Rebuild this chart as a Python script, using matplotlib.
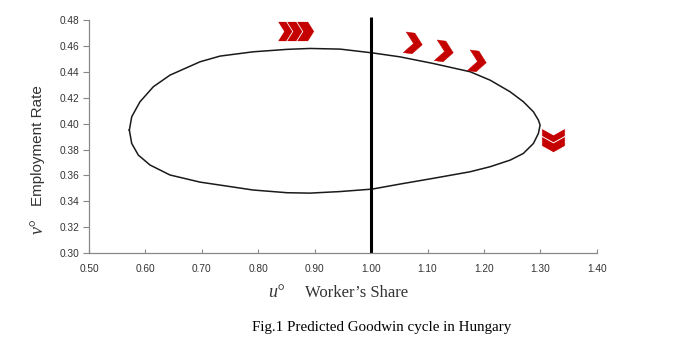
import matplotlib
matplotlib.use("Agg")
import matplotlib.pyplot as plt
from matplotlib.path import Path
from matplotlib.markers import MarkerStyle
from matplotlib.transforms import Affine2D

# predicted cycle (worker's share u, employment rate v), traced clockwise from the left end
u_cycle = [0.5715, 0.5757, 0.5904, 0.6140, 0.6436, 0.6968, 0.7323, 0.7908, 0.8511, 0.8918,
           0.9450, 1.0018, 1.0514, 1.1099, 1.1755, 1.2110, 1.2465, 1.2700, 1.2878, 1.2966,
           1.2996, 1.2966, 1.2878, 1.2700, 1.2465, 1.2110, 1.1755, 1.1099, 1.0514, 1.0018,
           0.9450, 0.8918, 0.8511, 0.7908, 0.7323, 0.6968, 0.6436, 0.6082, 0.5874, 0.5757,
           0.5715]
v_cycle = [0.3950, 0.4053, 0.4169, 0.4285, 0.4375, 0.4478, 0.4522, 0.4555, 0.4574, 0.4581,
           0.4576, 0.4547, 0.4516, 0.4465, 0.4401, 0.4336, 0.4246, 0.4169, 0.4091, 0.4027,
           0.3989, 0.3925, 0.3847, 0.3770, 0.3718, 0.3667, 0.3628, 0.3577, 0.3533, 0.3494,
           0.3475, 0.3463, 0.3466, 0.3487, 0.3525, 0.3548, 0.3603, 0.3680, 0.3757, 0.3847,
           0.3950]

# direction arrows along the cycle
triple_u = [0.849, 0.865, 0.882]
triple_v = [0.4715, 0.4715, 0.4715]
single_u = [1.074, 1.129, 1.188]
single_v = [0.4625, 0.4565, 0.4485]
down_u = [1.3227, 1.3227]
down_v = [0.3908, 0.3839]

x_ticks = [0.50, 0.60, 0.70, 0.80, 0.90, 1.00, 1.10, 1.20, 1.30, 1.40]
y_ticks = [0.30, 0.32, 0.34, 0.36, 0.38, 0.40, 0.42, 0.44, 0.46, 0.48]

red = "#c40000"


def chevron(t):
    # right-pointing chevron, arm thickness t (x units), spanning [-1, 1]
    verts = [(-1, 1), (-1 + t, 1), (1, 0), (-1 + t, -1), (-1, -1), (1 - t, 0), (-1, 1)]
    return Path(verts, [Path.MOVETO] + [Path.LINETO] * 5 + [Path.CLOSEPOLY])


fig = plt.figure(figsize=(6.82, 3.41), dpi=100)
ax = fig.add_axes([0.1305, 0.258, 0.7445, 0.683])

ax.plot(u_cycle, v_cycle, color="#1a1a1a", lw=1.1, solid_joinstyle="round")
ax.plot([1.0, 1.0], [0.30, 0.4825], color="black", lw=2.2, clip_on=False,
        solid_capstyle="butt")

ax.plot(triple_u, triple_v, ls="none",
        marker=MarkerStyle(chevron(1.3), transform=Affine2D().scale(0.9, 1)),
        ms=14.5, mfc=red, mec="white", mew=0.6, clip_on=False)
ax.plot(single_u, single_v, ls="none",
        marker=MarkerStyle(chevron(1.0), transform=Affine2D().scale(0.85, 1).rotate_deg(-8)),
        ms=15, mfc=red, mec=red, mew=0.3, clip_on=False)
ax.plot(down_u, down_v, ls="none",
        marker=MarkerStyle(chevron(1.2), transform=Affine2D().scale(0.7, 1).rotate_deg(-90)),
        ms=17, mfc=red, mec="white", mew=0.7, clip_on=False)

ax.set_xlim(0.50, 1.40)
ax.set_ylim(0.30, 0.48)
ax.set_xticks(x_ticks)
ax.set_yticks(y_ticks)
ax.set_xticklabels([f"{t:.2f}" for t in x_ticks])
ax.set_yticklabels([f"{t:.2f}" for t in y_ticks])

for s in ["top", "right"]:
    ax.spines[s].set_visible(False)
for s in ["left", "bottom"]:
    ax.spines[s].set_color("#888888")
    ax.spines[s].set_linewidth(0.9)
ax.tick_params(axis="y", direction="out", length=4, color="#888888",
               labelsize=7.3, labelcolor="#333333", pad=3)
ax.tick_params(axis="x", direction="in", length=3, color="#888888",
               labelsize=7.3, labelcolor="#333333", pad=8)
for lbl in ax.get_xticklabels() + ax.get_yticklabels():
    lbl.set_family("Liberation Sans")

fig.text(0.0557, 0.572, "Employment Rate", rotation=90, ha="center", va="center",
         fontsize=11, family="Liberation Sans", color="#333333")
fig.text(0.0557, 0.337, "v°", rotation=90, ha="center", va="center",
         fontsize=13, family="Liberation Serif", style="italic", color="#333333")
fig.text(0.405, 0.141, "u°", ha="center", va="center",
         fontsize=13, family="Liberation Serif", style="italic", color="#333333")
fig.text(0.447, 0.141, "Worker\u2019s Share", ha="left", va="center",
         fontsize=12, family="Liberation Serif", color="#333333")
fig.text(0.56, 0.04, "Fig.1 Predicted Goodwin cycle in Hungary", ha="center",
         va="center", fontsize=10.8, family="Liberation Serif", color="black")

fig.savefig("out.png", dpi=100, facecolor="white")
